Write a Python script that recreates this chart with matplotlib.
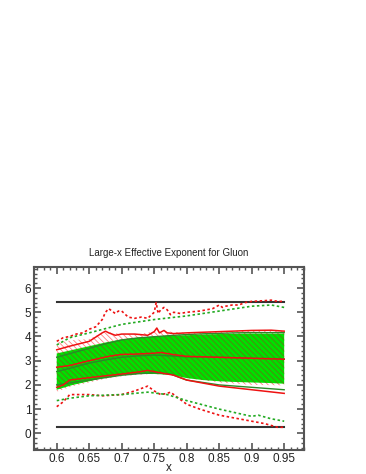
import matplotlib
matplotlib.use("Agg")
import matplotlib.pyplot as plt
import numpy as np
from matplotlib.ticker import MultipleLocator

plt.rcParams['font.family'] = ['Liberation Sans', 'DejaVu Sans']
plt.rcParams['hatch.linewidth'] = 0.6

# ---- data ----
title = "Large-x Effective Exponent for Gluon"
xlabel = "x"
hline_values = [5.44, 0.27]
hline_span = [0.6, 0.95]

band_x = [0.6, 0.625, 0.65, 0.675, 0.7, 0.725, 0.75, 0.775, 0.8, 0.825, 0.85, 0.875, 0.9, 0.925, 0.95]
green_band_hi = [3.3, 3.45, 3.6, 3.75, 3.88, 3.95, 4.0, 4.03, 4.05, 4.08, 4.1, 4.11, 4.12, 4.12, 4.12]
green_band_lo = [1.8, 2.0, 2.15, 2.3, 2.4, 2.45, 2.45, 2.42, 2.28, 2.2, 2.15, 2.12, 2.1, 2.08, 2.05]
red_band_hi = [3.75, 3.85, 3.9, 4.2, 4.1, 4.1, 4.2, 4.2, 4.15, 4.18, 4.2, 4.22, 4.25, 4.25, 4.22]
red_band_lo = [1.72, 1.95, 2.1, 2.25, 2.35, 2.42, 2.45, 2.42, 2.3, 2.2, 2.1, 2.05, 2.0, 1.99, 1.98]

green_solid_x = [0.6, 0.625, 0.65, 0.675, 0.7, 0.725, 0.75, 0.775, 0.8, 0.825, 0.85, 0.875, 0.9, 0.925, 0.95]
green_mid = [2.55, 2.72, 2.9, 3.03, 3.14, 3.2, 3.23, 3.2, 3.16, 3.15, 3.14, 3.12, 3.1, 3.09, 3.07]
green_hi = [3.14, 3.33, 3.51, 3.7, 3.86, 3.94, 3.99, 4.04, 4.08, 4.11, 4.13, 4.15, 4.16, 4.16, 4.16]
green_lo = [2.0, 2.1, 2.2, 2.3, 2.4, 2.46, 2.5, 2.45, 2.2, 2.1, 2.0, 1.95, 1.9, 1.85, 1.8]

red_mid_x = [0.6, 0.62, 0.65, 0.68, 0.7, 0.72, 0.75, 0.76, 0.78, 0.8, 0.85, 0.9, 0.95]
red_mid = [2.73, 2.8, 3.0, 3.18, 3.26, 3.27, 3.31, 3.34, 3.25, 3.18, 3.14, 3.1, 3.06]

red_lo_x = [0.6, 0.61, 0.62, 0.65, 0.7, 0.73, 0.74, 0.76, 0.77, 0.78, 0.8, 0.85, 0.9, 0.95]
red_lo = [1.9, 2.0, 2.2, 2.3, 2.45, 2.55, 2.6, 2.5, 2.45, 2.4, 2.2, 1.95, 1.8, 1.65]

red_hi_x = [0.6, 0.62, 0.65, 0.67, 0.675, 0.68, 0.69, 0.7, 0.72, 0.74, 0.75, 0.754, 0.758, 0.765, 0.77, 0.78, 0.8, 0.85, 0.9, 0.93, 0.95]
red_hi = [3.45, 3.6, 3.8, 4.15, 4.22, 4.15, 4.05, 4.1, 4.1, 4.05, 4.2, 4.35, 4.15, 4.25, 4.15, 4.12, 4.15, 4.2, 4.25, 4.26, 4.22]

red_dot_hi_x = [0.6, 0.61, 0.62, 0.63, 0.64, 0.65, 0.66, 0.67, 0.675, 0.68, 0.69, 0.695, 0.7, 0.71, 0.72, 0.73, 0.74, 0.75, 0.753, 0.756, 0.76, 0.765, 0.77, 0.775, 0.78, 0.79, 0.8, 0.82, 0.84, 0.85, 0.855, 0.86, 0.87, 0.88, 0.89, 0.9, 0.92, 0.93, 0.94, 0.95]
red_dot_hi = [3.8, 3.95, 4.0, 4.1, 4.15, 4.3, 4.4, 4.7, 5.0, 5.15, 4.95, 5.05, 5.05, 4.8, 4.75, 4.8, 4.75, 5.0, 5.4, 4.95, 5.1, 5.2, 5.1, 4.9, 5.0, 4.95, 5.0, 5.05, 5.15, 5.3, 5.2, 5.25, 5.3, 5.3, 5.4, 5.45, 5.48, 5.5, 5.45, 5.45]

green_dot_hi_x = [0.6, 0.62, 0.65, 0.7, 0.75, 0.8, 0.85, 0.9, 0.93, 0.95]
green_dot_hi = [3.65, 3.95, 4.15, 4.5, 4.7, 4.85, 5.05, 5.25, 5.3, 5.2]

red_dot_lo_x = [0.6, 0.61, 0.62, 0.65, 0.67, 0.7, 0.72, 0.73, 0.74, 0.75, 0.76, 0.77, 0.775, 0.78, 0.8, 0.82, 0.85, 0.88, 0.9, 0.92, 0.94, 0.95]
red_dot_lo = [1.1, 1.3, 1.6, 1.6, 1.55, 1.6, 1.75, 1.85, 1.95, 1.75, 1.6, 1.65, 1.7, 1.6, 1.2, 1.0, 0.75, 0.6, 0.5, 0.4, 0.25, 0.25]

green_dot_lo_x = [0.6, 0.62, 0.65, 0.7, 0.74, 0.77, 0.8, 0.85, 0.9, 0.91, 0.93, 0.95]
green_dot_lo = [1.35, 1.45, 1.55, 1.6, 1.7, 1.6, 1.35, 1.0, 0.7, 0.75, 0.6, 0.5]

xticks = [0.6, 0.65, 0.7, 0.75, 0.8, 0.85, 0.9, 0.95]
xtick_labels = ["0.6", "0.65", "0.7", "0.75", "0.8", "0.85", "0.9", "0.95"]
yticks = [0, 1, 2, 3, 4, 5, 6]

# ---- figure ----
fig = plt.figure(figsize=(3.66, 4.74), dpi=100)
ax = fig.add_axes([0.0929, 0.0506, 0.7377, 0.3861])

frame_col = '#555555'
ax.fill_between(band_x, red_band_lo, red_band_hi, facecolor='none', edgecolor='#ff8080',
                hatch='\\\\\\\\\\\\', linewidth=0, zorder=1)
ax.fill_between(band_x, green_band_lo, green_band_hi, facecolor='#00e000', edgecolor='none',
                linewidth=0, zorder=2)
ax.fill_between(band_x, green_band_lo, green_band_hi, facecolor='none', edgecolor='#a03020',
                hatch='\\\\\\\\\\\\', linewidth=0, zorder=3, alpha=0.55)

for v in hline_values:
    ax.plot(hline_span, [v, v], color='#333333', lw=1.5, zorder=5)

gcol = '#2a8a2a'
ax.plot(green_solid_x, green_mid, color=gcol, lw=1.0, zorder=4)
ax.plot(green_solid_x, green_hi, color=gcol, lw=1.0, zorder=4)
ax.plot(green_solid_x, green_lo, color=gcol, lw=1.0, zorder=4)

ax.plot(red_mid_x, red_mid, color='#ee1111', lw=1.1, zorder=5)
ax.plot(red_lo_x, red_lo, color='#ee1111', lw=1.1, zorder=5)
ax.plot(red_hi_x, red_hi, color='#ee1111', lw=1.1, zorder=5)

dot = (0, (1.5, 1.5))
ax.plot(red_dot_hi_x, red_dot_hi, color='#ee1111', lw=1.2, ls=dot, zorder=5)
ax.plot(red_dot_lo_x, red_dot_lo, color='#ee1111', lw=1.2, ls=dot, zorder=5)
ax.plot(green_dot_hi_x, green_dot_hi, color='#22aa22', lw=1.2, ls=dot, zorder=5)
ax.plot(green_dot_lo_x, green_dot_lo, color='#22aa22', lw=1.2, ls=dot, zorder=5)

ax.set_xlim(0.565, 0.9805)
ax.set_ylim(-0.69, 6.87)
ax.set_xticks(xticks)
ax.set_xticklabels(xtick_labels)
ax.set_yticks(yticks)
ax.xaxis.set_minor_locator(MultipleLocator(0.01))
ax.yaxis.set_minor_locator(MultipleLocator(0.2))
ax.tick_params(which='both', direction='in', top=True, right=True, colors=frame_col,
               labelcolor='#222222', labelsize=8.5, pad=2)
ax.tick_params(which='major', length=5, width=1.2)
ax.tick_params(which='minor', length=2.5, width=1.0)
for s in ax.spines.values():
    s.set_color(frame_col)
    s.set_linewidth(1.5)

ax.set_title(title, fontsize=7, color='#222222', pad=8)
ax.set_xlabel(xlabel, fontsize=8.5, color='#222222', labelpad=-2)

fig.savefig('out.png', dpi=100)
